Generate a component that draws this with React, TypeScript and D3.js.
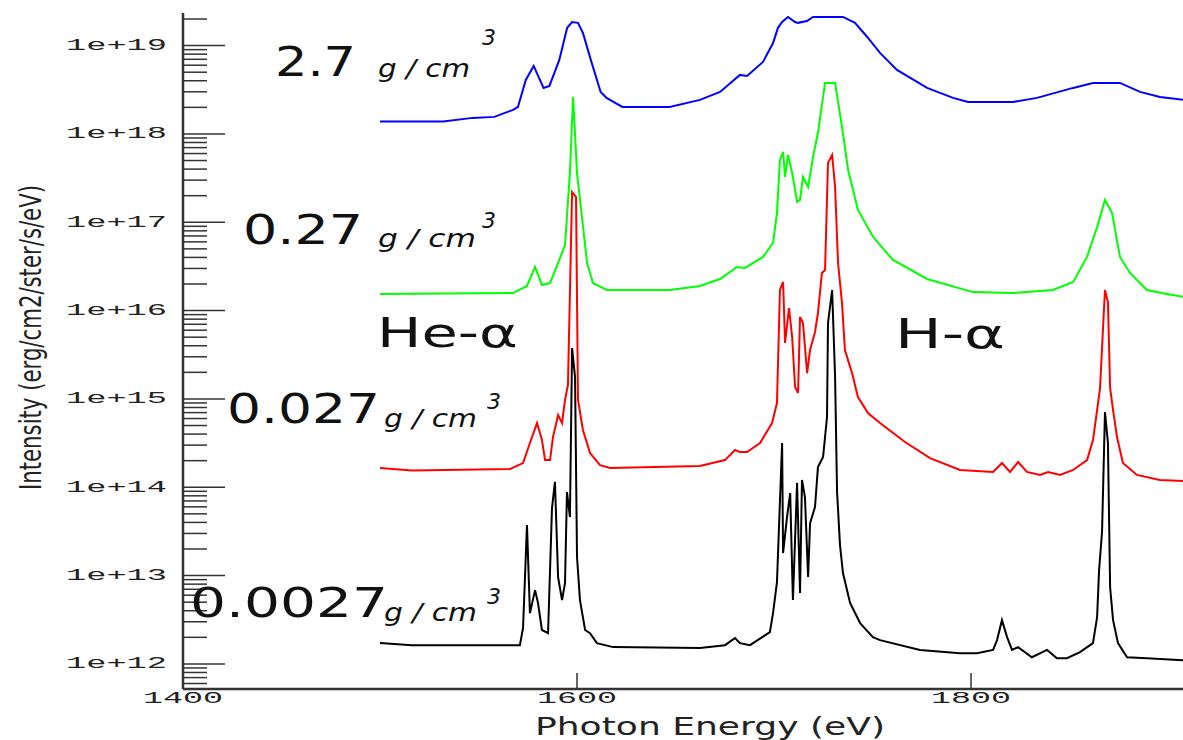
import React from "react";
import * as d3 from "d3";

// ---------- data ----------
const xTicks = [1400, 1600, 1800];
const xTickLabels = ["1400", "1600", "1800"];
const yMajor = [1e12, 1e13, 1e14, 1e15, 1e16, 1e17, 1e18, 1e19];
const yTickLabels = ["1e+12", "1e+13", "1e+14", "1e+15", "1e+16", "1e+17", "1e+18", "1e+19"];
const densityLabels = ["2.7", "0.27", "0.027", "0.0027"];
const lineLabels = ["He-\u03b1", "H-\u03b1"];

// [photon energy (eV), intensity]
const rho2_7: [number, number][] = [
  [1500, 1.38e18], [1532, 1.38e18], [1547, 1.52e18], [1558, 1.56e18], [1567.5, 1.87e18],
  [1570, 2.02e18], [1574, 4.09e18], [1578, 5.89e18], [1583, 3.32e18], [1586, 3.5e18],
  [1591, 6.89e18], [1595, 1.59e19], [1597.5, 1.85e19], [1600.5, 1.81e19], [1603, 1.39e19],
  [1607, 6.89e18], [1612, 2.99e18], [1615, 2.56e18], [1623, 2.02e18], [1647, 2.02e18],
  [1662.4, 2.43e18], [1672.6, 2.99e18], [1682.7, 4.66e18], [1686.3, 4.54e18], [1694.4, 6.53e18],
  [1699.5, 1.07e19], [1702, 1.59e19], [1704.1, 1.85e19], [1707.1, 2.11e19], [1710.7, 1.85e19],
  [1712.2, 1.81e19], [1716.7, 1.9e19], [1719.8, 2.11e19], [1735, 2.11e19], [1741.1, 1.81e19],
  [1747.2, 1.26e19], [1753.8, 8.26e18], [1762.4, 5.31e18], [1777.7, 3.32e18], [1790.9, 2.56e18],
  [1798.5, 2.3e18], [1821.3, 2.3e18], [1833.5, 2.56e18], [1851.8, 3.32e18], [1861.9, 3.78e18],
  [1875.6, 3.78e18], [1885.8, 2.99e18], [1895.9, 2.62e18], [1907.6, 2.43e18],
];

const rho0_27: [number, number][] = [
  [1500, 1.54e16], [1567.5, 1.58e16], [1574.6, 1.9e16], [1578.7, 3.12e16], [1582.2, 1.95e16],
  [1586.3, 2.05e16], [1590.4, 3.46e16], [1593.9, 5.53e16], [1596.4, 3.62e17], [1598, 2.62e18],
  [1600, 3.62e17], [1602.5, 1.15e17], [1605.1, 3.46e16], [1608.1, 2.05e16], [1615.2, 1.71e16],
  [1647.2, 1.71e16], [1662.4, 1.9e16], [1672.6, 2.28e16], [1681.2, 3.12e16], [1685.3, 3.04e16],
  [1694.4, 4.05e16], [1699.5, 5.83e16], [1701.5, 1.27e17], [1703, 5.08e17], [1704.6, 6.25e17],
  [1705.6, 3.26e17], [1707.1, 5.78e17], [1709.2, 3.62e17], [1711.7, 1.7e17], [1713.2, 1.79e17],
  [1714.7, 3.26e17], [1717.3, 2.51e17], [1719.8, 5.49e17], [1722.3, 1.03e18], [1725.9, 3.78e18],
  [1731, 3.78e18], [1734.5, 1.2e18], [1737.6, 3.91e17], [1742.6, 1.38e17], [1750.3, 6.81e16],
  [1760.4, 3.74e16], [1777.7, 2.28e16], [1801, 1.62e16], [1821.3, 1.58e16], [1841.6, 1.71e16],
  [1851.8, 2.11e16], [1858.9, 4.05e16], [1864, 8.85e16], [1868, 1.79e17], [1871.6, 1.27e17],
  [1875.6, 4.05e16], [1880.7, 2.67e16], [1889.3, 1.71e16], [1899.5, 1.54e16], [1907.6, 1.43e16],
];

const rho0_027: [number, number][] = [
  [1500, 1.65e14], [1516.2, 1.55e14], [1566, 1.61e14], [1572.6, 1.88e14], [1576.1, 3.17e14],
  [1579.7, 5.33e14], [1582.2, 3.42e14], [1583.8, 2.03e14], [1586.3, 2.03e14], [1587.8, 3.7e14],
  [1590.4, 6.57e14], [1592.4, 5.33e14], [1593.9, 9.72e14], [1595.4, 1.44e15], [1597.5, 2.2e17],
  [1599.5, 1.94e17], [1600.5, 9.72e14], [1603, 4.45e14], [1606.6, 2.44e14], [1611.7, 1.78e14],
  [1616.8, 1.65e14], [1662.4, 1.74e14], [1675.1, 2.03e14], [1680.2, 2.64e14], [1682.7, 2.5e14],
  [1686.3, 2.5e14], [1692.9, 3.17e14], [1699, 5.33e14], [1701.5, 8.99e14], [1703, 1.71e16],
  [1704.6, 2.11e16], [1705.6, 4.3e15], [1707.6, 1.07e16], [1709.2, 5.02e15], [1710.7, 1.36e15],
  [1712.2, 1.17e15], [1713.2, 8.47e15], [1714.7, 7.24e15], [1716.8, 1.96e15], [1718.3, 3.58e15],
  [1720.8, 5.72e15], [1722.3, 9.39e15], [1724.3, 2.67e16], [1725.9, 2.88e16], [1726.9, 1.88e17],
  [1727.4, 4.7e17], [1729.5, 5.78e17], [1731, 2.51e17], [1732.5, 3.46e16], [1734.5, 1.22e16],
  [1736, 3.58e15], [1739.6, 1.96e15], [1742.6, 1.05e15], [1747.7, 6.92e14], [1753.8, 5.33e14],
  [1766.5, 3.25e14], [1779.2, 2.14e14], [1794.4, 1.57e14], [1811.2, 1.49e14], [1815.7, 1.88e14],
  [1819.8, 1.49e14], [1823.9, 1.93e14], [1828.4, 1.49e14], [1835, 1.38e14], [1839.1, 1.49e14],
  [1845.2, 1.38e14], [1851.8, 1.57e14], [1858.9, 2.03e14], [1861.9, 3.42e14], [1864, 7.48e14],
  [1865.5, 1.33e15], [1867, 6.35e15], [1868, 1.71e16], [1869.5, 1.25e16], [1870.6, 1.33e15],
  [1872.1, 7.48e14], [1874.1, 3.7e14], [1877.1, 1.88e14], [1884.2, 1.38e14], [1895.9, 1.21e14],
  [1907.6, 1.18e14],
];

const rho0_0027: [number, number][] = [
  [1500, 1.72e12], [1516.2, 1.63e12], [1571, 1.63e12], [1572.6, 2.55e12], [1573.6, 9.62e12],
  [1574.6, 3.73e13], [1576.1, 3.76e12], [1578.7, 6.85e12], [1580.2, 4.89e12], [1582.2, 2.42e12],
  [1585.3, 2.23e12], [1587.3, 5.81e13], [1588.8, 1.15e14], [1590.4, 9.62e12], [1592.4, 5.28e12],
  [1593.9, 8.22e12], [1594.9, 8.83e13], [1596.4, 4.6e13], [1597.5, 3.77e15], [1599, 1.77e15],
  [1600, 1.62e13], [1601.5, 5.28e12], [1604.1, 2.42e12], [1606.6, 2.23e12], [1610.1, 1.72e12],
  [1618.3, 1.55e12], [1662.4, 1.51e12], [1675.1, 1.63e12], [1680.2, 1.96e12], [1682.7, 1.72e12],
  [1687.8, 1.63e12], [1697.9, 2.29e12], [1699.5, 3.76e12], [1701.5, 8.44e12], [1704.1, 3.17e14],
  [1704.6, 1.8e13], [1706.6, 4.6e13], [1708.2, 8.6e13], [1709.6, 5.28e12], [1711.7, 1.12e14],
  [1713.2, 6.34e12], [1714.2, 1.21e14], [1715.7, 7.74e13], [1717.3, 9.62e12], [1718.3, 3.93e13],
  [1720.8, 5.97e13], [1722.3, 1.69e14], [1724.9, 2.2e14], [1726.9, 6.24e14], [1727.4, 7.24e15],
  [1729.5, 1.71e16], [1731, 1.77e15], [1732, 8.83e13], [1733.5, 2.21e13], [1735, 1.07e13],
  [1738.6, 4.89e12], [1743.7, 2.9e12], [1750.2, 2.01e12], [1753.8, 1.86e12], [1774.1, 1.44e12],
  [1794.4, 1.32e12], [1803, 1.32e12], [1811.2, 1.44e12], [1813.2, 1.86e12], [1815.7, 3.13e12],
  [1818.3, 2.01e12], [1820.8, 1.44e12], [1823.9, 1.55e12], [1830.9, 1.19e12], [1838.6, 1.44e12],
  [1843.6, 1.16e12], [1848.7, 1.16e12], [1855.3, 1.36e12], [1861.9, 1.72e12], [1864, 3.39e12],
  [1865, 1.15e13], [1866.5, 3.11e13], [1868, 7.11e14], [1869.5, 3.17e14], [1870.6, 7.41e12],
  [1872.1, 3.13e12], [1874.6, 1.72e12], [1879.2, 1.19e12], [1889.3, 1.16e12], [1907.6, 1.1e12],
];

const seriesList: { data: [number, number][]; color: string }[] = [
  { data: rho2_7, color: "#0000ff" },
  { data: rho0_27, color: "#00ff00" },
  { data: rho0_027, color: "#ff0000" },
  { data: rho0_0027, color: "#000000" },
];

// ---------- layout ----------
const W = 1183;
const H = 740;
const x = d3.scaleLinear().domain([1400, 1907.6]).range([183, 1183]);
const y = d3.scaleLog().domain([5.2e11, 2.34e19]).range([689, 13]);

export default function App() {
  const line = d3
    .line<[number, number]>()
    .x((d) => x(d[0]))
    .y((d) => y(d[1]));

  const [yLo, yHi] = y.domain();
  const minor: number[] = [];
  for (let e = 11; e <= 19; e++) {
    for (let m = 2; m <= 9; m++) {
      const v = m * Math.pow(10, e);
      if (v > yLo && v < yHi) minor.push(v);
    }
  }
  const x0 = x(1400);
  const yb = y(yLo);

  const monoFont = "'Liberation Mono', 'DejaVu Sans Mono', monospace";
  const sans = "'DejaVu Sans', Verdana, sans-serif";

  const densPos = [
    { bx: 275, bw: 81, by: 76, gx: 378, gw: 92, gy: 77, sx: 482, sy: 45 },
    { bx: 243, bw: 120, by: 244, gx: 378, gw: 98, gy: 247, sx: 482, sy: 228 },
    { bx: 227, bw: 153, by: 423, gx: 384, gw: 93, gy: 427, sx: 487, sy: 409 },
    { bx: 190, bw: 198, by: 617, gx: 384, gw: 93, gy: 621, sx: 487, sy: 604 },
  ];

  return (
    <svg
      width={W}
      height={H}
      style={{ position: "absolute", left: 0, top: 0, background: "#fff" }}
    >
      <rect x={0} y={0} width={W} height={H} fill="#fff" />

      {/* curves */}
      {seriesList.map((s, i) => (
        <path
          key={i}
          d={line(s.data) || ""}
          fill="none"
          stroke={s.color}
          strokeWidth={2}
          strokeLinejoin="miter"
        />
      ))}

      {/* y axis */}
      <line x1={x0} y1={13} x2={x0} y2={yb} stroke="#333" strokeWidth={2.5} />
      {yMajor.map((v, i) => (
        <g key={"M" + i}>
          <line x1={x0} x2={x0 + 42} y1={y(v)} y2={y(v)} stroke="#333" strokeWidth={1.5} />
          <text
            x={66}
            y={y(v)}
            dominantBaseline="middle"
            fontFamily={monoFont}
            fontSize={17}
            fill="#222"
            textLength={101}
            lengthAdjust="spacingAndGlyphs"
          >
            {yTickLabels[i]}
          </text>
        </g>
      ))}
      {minor.map((v, i) => (
        <line key={"m" + i} x1={x0} x2={x0 + 24} y1={y(v)} y2={y(v)} stroke="#333" strokeWidth={1.5} />
      ))}

      {/* x axis */}
      <line x1={x0} y1={yb} x2={W} y2={yb} stroke="#333" strokeWidth={2.5} />
      {xTicks.map((v, i) => (
        <g key={"x" + i}>
          {i > 0 && <line x1={x(v)} x2={x(v)} y1={yb} y2={yb - 16} stroke="#333" strokeWidth={1.5} />}
          <text
            x={x(v) - 40}
            y={703}
            fontFamily={monoFont}
            fontSize={17}
            fill="#222"
            textLength={80}
            lengthAdjust="spacingAndGlyphs"
          >
            {xTickLabels[i]}
          </text>
        </g>
      ))}

      {/* axis titles */}
      <text
        x={535}
        y={735}
        fontFamily={sans}
        fontSize={24}
        fill="#222"
        textLength={350}
        lengthAdjust="spacingAndGlyphs"
      >
        Photon Energy (eV)
      </text>
      <text
        transform="translate(41, 490) rotate(-90) scale(1, 1.55)"
        x={0}
        y={0}
        fontFamily={sans}
        fontSize={19}
        fill="#222"
        textLength={305}
        lengthAdjust="spacingAndGlyphs"
      >
        Intensity (erg/cm2/ster/s/eV)
      </text>

      {/* density annotations */}
      {densityLabels.map((lab, i) => {
        const p = densPos[i];
        return (
          <g key={"d" + i} fill="#111">
            <text
              x={p.bx}
              y={p.by}
              fontFamily={sans}
              fontSize={41}
              textLength={p.bw}
              lengthAdjust="spacingAndGlyphs"
            >
              {lab}
            </text>
            <text
              x={p.gx}
              y={p.gy}
              fontFamily={sans}
              fontStyle="italic"
              fontSize={24}
              textLength={p.gw}
              lengthAdjust="spacingAndGlyphs"
            >
              g / cm
            </text>
            <text x={p.sx} y={p.sy} fontFamily={sans} fontStyle="italic" fontSize={22}>
              3
            </text>
          </g>
        );
      })}

      {/* line annotations */}
      <text
        x={377}
        y={347}
        fontFamily={sans}
        fontSize={41}
        fill="#111"
        textLength={141}
        lengthAdjust="spacingAndGlyphs"
      >
        {lineLabels[0]}
      </text>
      <text
        x={895}
        y={348}
        fontFamily={sans}
        fontSize={41}
        fill="#111"
        textLength={110}
        lengthAdjust="spacingAndGlyphs"
      >
        {lineLabels[1]}
      </text>
    </svg>
  );
}
